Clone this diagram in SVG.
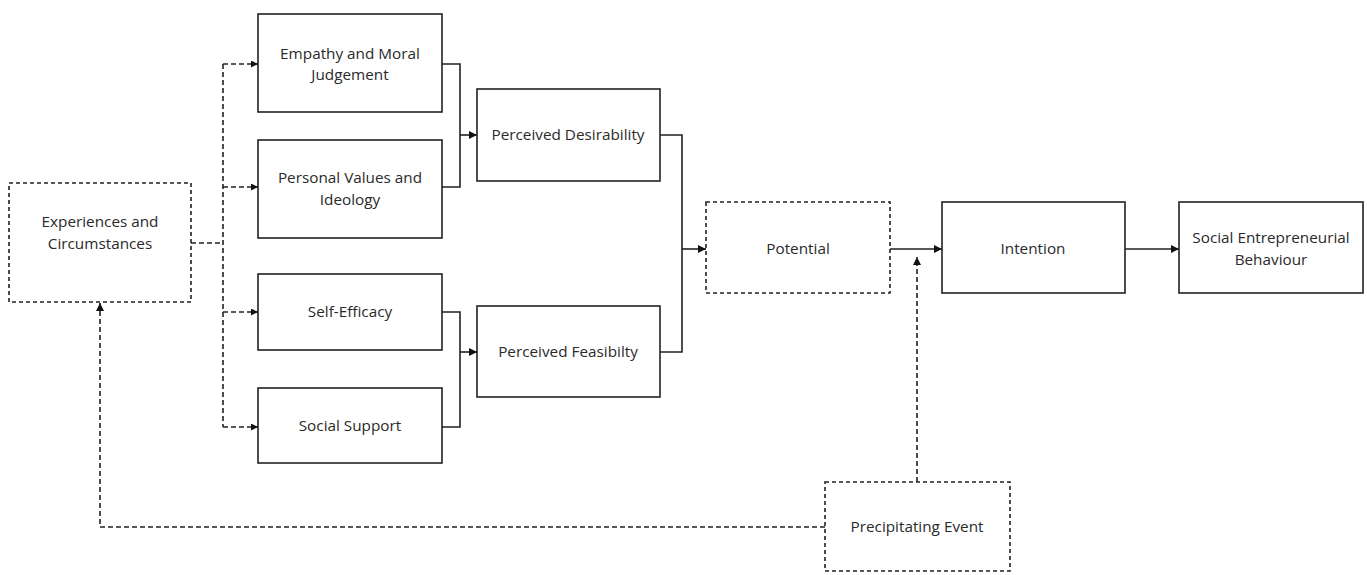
<svg xmlns="http://www.w3.org/2000/svg" width="1367" height="575" viewBox="0 0 1367 575">
<style>
.box{fill:#fff;stroke:#222;stroke-width:1.6}
.dbox{fill:#fff;stroke:#222;stroke-width:1.6;stroke-dasharray:4 3}
.t{font-family:"Open Sans","Noto Sans",sans-serif;font-size:15.3px;fill:#2a2a2a;text-anchor:middle}
.c{fill:none;stroke:#222;stroke-width:1.6}
.dc{fill:none;stroke:#222;stroke-width:1.6;stroke-dasharray:5 3}
</style>
<defs>
<marker id="ah" viewBox="0 0 10 10" refX="10" refY="5" markerWidth="7" markerHeight="7" markerUnits="userSpaceOnUse" orient="auto"><path d="M0,0 L10,5 L0,10 z" fill="#111"/></marker>
<marker id="ahl" viewBox="0 0 10 10" refX="10" refY="5" markerWidth="8" markerHeight="8" markerUnits="userSpaceOnUse" orient="auto"><path d="M0,0 L10,5 L0,10 z" fill="#111"/></marker>
</defs>
<g id="connectors">
<path class="dc" d="M191,243 H223"/>
<path class="dc" d="M223,64 V427"/>
<path class="dc" d="M223,64 H258" marker-end="url(#ah)"/>
<path class="dc" d="M223,187 H258" marker-end="url(#ah)"/>
<path class="dc" d="M223,312 H258" marker-end="url(#ah)"/>
<path class="dc" d="M223,427 H258" marker-end="url(#ah)"/>
<path class="c" d="M442,64 H460 V187 H442"/>
<path class="c" d="M460,135 H477" marker-end="url(#ahl)"/>
<path class="c" d="M442,312 H460 V427 H442"/>
<path class="c" d="M460,352 H477" marker-end="url(#ahl)"/>
<path class="c" d="M660,135 H682 V352 H660"/>
<path class="c" d="M682,249 H706" marker-end="url(#ahl)"/>
<path class="c" d="M890,249 H942" marker-end="url(#ahl)"/>
<path class="c" d="M1125,249 H1179" marker-end="url(#ahl)"/>
<path class="dc" d="M917,482 V257" marker-end="url(#ahl)"/>
<path class="dc" d="M825,527 H100 V303" marker-end="url(#ahl)"/>
</g>
<g id="experiences"><rect class="dbox" x="9" y="183" width="182" height="119"/><text class="t" x="100" y="227">Experiences and</text><text class="t" x="100" y="249">Circumstances</text></g>
<g id="empathy"><rect class="box" x="258" y="14" width="184" height="98"/><text class="t" x="350" y="59">Empathy and Moral</text><text class="t" x="350" y="80">Judgement</text></g>
<g id="values"><rect class="box" x="258" y="140" width="184" height="98"/><text class="t" x="350" y="183">Personal Values and</text><text class="t" x="350" y="205">Ideology</text></g>
<g id="selfefficacy"><rect class="box" x="258" y="274" width="184" height="76"/><text class="t" x="350" y="317">Self-Efficacy</text></g>
<g id="socialsupport"><rect class="box" x="258" y="388" width="184" height="75"/><text class="t" x="350" y="431">Social Support</text></g>
<g id="desirability"><rect class="box" x="477" y="89" width="183" height="92"/><text class="t" x="568" y="140">Perceived Desirability</text></g>
<g id="feasibility"><rect class="box" x="477" y="306" width="183" height="91"/><text class="t" x="568" y="357">Perceived Feasibilty</text></g>
<g id="potential"><rect class="dbox" x="706" y="202" width="184" height="91"/><text class="t" x="798" y="254">Potential</text></g>
<g id="intention"><rect class="box" x="942" y="202" width="183" height="91"/><text class="t" x="1033" y="254">Intention</text></g>
<g id="behaviour"><rect class="box" x="1179" y="202" width="184" height="91"/><text class="t" x="1271" y="243">Social Entrepreneurial</text><text class="t" x="1271" y="265">Behaviour</text></g>
<g id="precipitating"><rect class="dbox" x="825" y="482" width="185" height="89"/><text class="t" x="917" y="532">Precipitating Event</text></g>
</svg>
